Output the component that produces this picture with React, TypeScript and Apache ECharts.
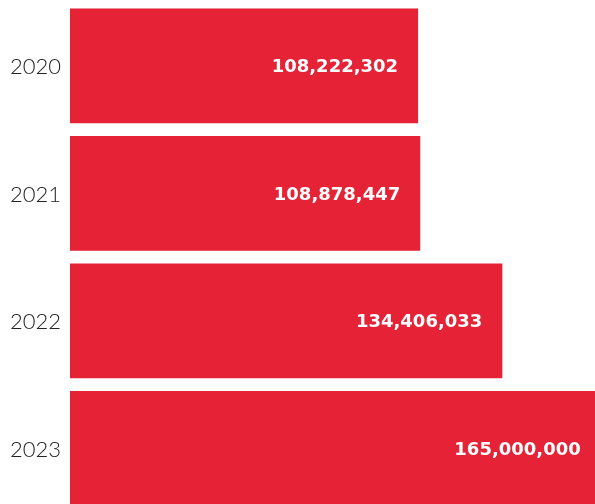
import React, { useEffect, useRef } from "react";
import * as echarts from "echarts";

const years = ["2020", "2021", "2022", "2023"];
const visitors = [108222302, 108878447, 134406033, 165000000];

const fmt = (v: number) => v.toLocaleString("en-US");

export default function App() {
  const ref = useRef<HTMLDivElement>(null);
  useEffect(() => {
    document.body.style.margin = "0";
    document.body.style.overflow = "hidden";
    const chart = echarts.init(ref.current!, null, { renderer: "svg" });
    chart.setOption({
      animation: false,
      grid: { left: 70, top: 2, width: 579, height: 510, containLabel: false },
      xAxis: {
        type: "value",
        min: 0,
        max: 180000000,
        show: false,
      },
      yAxis: {
        type: "category",
        data: years,
        inverse: true,
        axisLine: { show: false },
        axisTick: { show: false },
        axisLabel: {
          margin: 9,
          fontFamily: "Lato",
          fontWeight: 300,
          fontSize: 22,
          color: "#222222",
        },
      },
      series: [
        {
          type: "bar",
          data: visitors,
          barCategoryGap: "10%",
          itemStyle: { color: "#E52236" },
          label: {
            show: true,
            position: "insideRight",
            distance: 20,
            formatter: (p: any) => fmt(p.value),
            color: "#ffffff",
            fontFamily: "DejaVu Sans",
            fontWeight: "bold",
            fontSize: 18,
          },
        },
      ],
    });
    return () => chart.dispose();
  }, []);
  return (
    <div style={{ position: "fixed", left: 0, top: 0, width: 595, height: 504, overflow: "hidden" }}>
      <div ref={ref} style={{ width: 660, height: 520 }} />
    </div>
  );
}
